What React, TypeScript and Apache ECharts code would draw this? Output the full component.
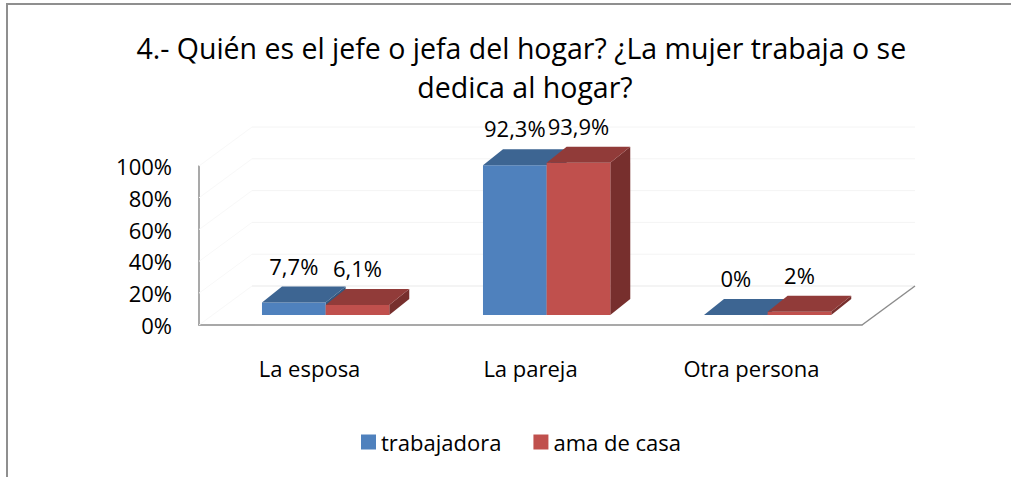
import React, { useEffect, useRef } from "react";
import * as echarts from "echarts";

const titleText = "4.- Quién es el jefe o jefa del hogar? ¿La mujer trabaja o se \ndedica al hogar?";
const categories = ["La esposa", "La pareja", "Otra persona"];
const seriesNames = ["trabajadora", "ama de casa"];
const trabajadora = [7.7, 92.3, 0];
const amaDeCasa = [6.1, 93.9, 2];
const yTicks = [0, 20, 40, 60, 80, 100];

const FONT = "'Open Sans', sans-serif";

const palettes = [
  { front: "#4F81BD", top: "#3D6592", side: "#34587F" },
  { front: "#C0504D", top: "#913B39", side: "#772F2D" },
];

const fmt = (v: number) => String(v).replace(".", ",") + "%";

function makeBarRender(sIdx: number) {
  return (params: any, api: any) => {
    const idx = api.value(0);
    const v = api.value(1);
    const band = api.size([1, 0])[0];
    const p0 = api.coord([idx, 0]);
    const p100 = api.coord([idx, 100]);
    const unit = ((p0[1] - p100[1]) / 100) * 1.02;
    const barW = band * 0.288;
    const shiftX = band * 0.073;
    const shiftY = -10;
    const dX = 20;
    const dY = -16;
    const x0 = sIdx === 0 ? p0[0] + shiftX - barW : p0[0] + shiftX;
    const baseY = p0[1] + shiftY;
    const topY = baseY - v * unit;
    const pal = palettes[sIdx];
    const children: any[] = [
      {
        type: "polygon",
        shape: {
          points: [
            [x0 + barW, topY],
            [x0 + barW + dX, topY + dY],
            [x0 + barW + dX, baseY + dY],
            [x0 + barW, baseY],
          ],
        },
        style: { fill: pal.side },
      },
      {
        type: "rect",
        shape: { x: x0, y: topY, width: barW, height: baseY - topY },
        style: { fill: pal.front },
      },
      {
        type: "polygon",
        shape: {
          points: [
            [x0, topY],
            [x0 + barW, topY],
            [x0 + barW + dX, topY + dY],
            [x0 + dX, topY + dY],
          ],
        },
        style: { fill: pal.top },
      },
      {
        type: "text",
        style: {
          text: fmt(v),
          x: x0 + barW / 2,
          y: topY + dY - 21,
          align: "center",
          verticalAlign: "middle",
          fontSize: 22,
          fontFamily: FONT,
          fill: "#000",
        },
        z2: 10,
      },
    ];
    return { type: "group", children };
  };
}

function frameRender(params: any, api: any) {
  const n = categories.length;
  const left = api.coord([0, 0]);
  const right = api.coord([n - 1, 0]);
  const band = api.size([1, 0])[0];
  const xL = left[0] - band / 2;
  const xR = right[0] + band / 2;
  const y0 = left[1];
  const unit = (y0 - api.coord([0, 100])[1]) / 100;
  const dX = 53;
  const dY = -39;
  const children: any[] = [];
  yTicks.forEach((t) => {
    const yf = y0 - t * unit;
    const yb = yf + dY;
    children.push({
      type: "line",
      shape: { x1: xL, y1: yf, x2: xL + dX, y2: yb },
      style: { stroke: "#f8f8f8", lineWidth: 1 },
    });
    children.push({
      type: "line",
      shape: { x1: xL + dX, y1: yb, x2: xR + dX, y2: yb },
      style: { stroke: t === 0 ? "#e9e9e9" : "#f4f4f4", lineWidth: 1 },
    });
  });
  children.push({
    type: "line",
    shape: { x1: xR, y1: y0, x2: xR + dX, y2: y0 + dY },
    style: { stroke: "#8c8c8c", lineWidth: 1.5 },
  });
  return { type: "group", children };
}

export default function App() {
  const ref = useRef<HTMLDivElement>(null);
  useEffect(() => {
    if (!ref.current) return;
    const chart = echarts.init(ref.current, undefined, { renderer: "svg" });
    chart.setOption({
      animation: false,
      backgroundColor: "#ffffff",
      title: {
        text: titleText,
        left: 520,
        textAlign: "center",
        top: 23,
        textStyle: {
          fontFamily: FONT,
          fontSize: 28.5,
          fontWeight: "normal",
          color: "#000",
          lineHeight: 39,
        },
      },
      legend: {
        top: 426,
        left: 356,
        itemWidth: 15,
        itemHeight: 15,
        itemGap: 32,
        icon: "rect",
        data: seriesNames,
        textStyle: { fontFamily: FONT, fontSize: 22, color: "#000" },
      },
      grid: { left: 199, top: 166, width: 663, height: 159 },
      xAxis: {
        type: "category",
        data: categories,
        axisLine: { show: true, lineStyle: { color: "#8c8c8c", width: 1.5 } },
        axisTick: { show: false },
        axisLabel: { fontFamily: FONT, fontSize: 22, color: "#000", margin: 32 },
      },
      yAxis: {
        type: "value",
        min: 0,
        max: 100,
        interval: 20,
        axisLine: { show: true, lineStyle: { color: "#8c8c8c", width: 1.5 } },
        axisTick: { show: false },
        splitLine: { show: false },
        axisLabel: {
          fontFamily: FONT,
          fontSize: 22,
          color: "#000",
          margin: 27,
          formatter: "{value}%",
        },
      },
      graphic: [
        {
          type: "rect",
          shape: { x: 7, y: 4, width: 1100, height: 600 },
          style: { fill: "none", stroke: "#8f8f8f", lineWidth: 2 },
          silent: true,
        },
      ],
      series: [
        {
          type: "custom",
          name: "frame",
          renderItem: frameRender,
          data: [[0, 0]],
          silent: true,
          z: 1,
        },
        {
          type: "custom",
          name: seriesNames[0],
          renderItem: makeBarRender(0),
          data: trabajadora.map((v, i) => [i, v]),
          itemStyle: { color: palettes[0].front },
          z: 2,
        },
        {
          type: "custom",
          name: seriesNames[1],
          renderItem: makeBarRender(1),
          data: amaDeCasa.map((v, i) => [i, v]),
          itemStyle: { color: palettes[1].front },
          z: 3,
        },
      ],
    });
    return () => chart.dispose();
  }, []);
  return (
    <div
      ref={ref}
      style={{ position: "absolute", left: 0, top: 0, width: 1011, height: 477 }}
    />
  );
}
